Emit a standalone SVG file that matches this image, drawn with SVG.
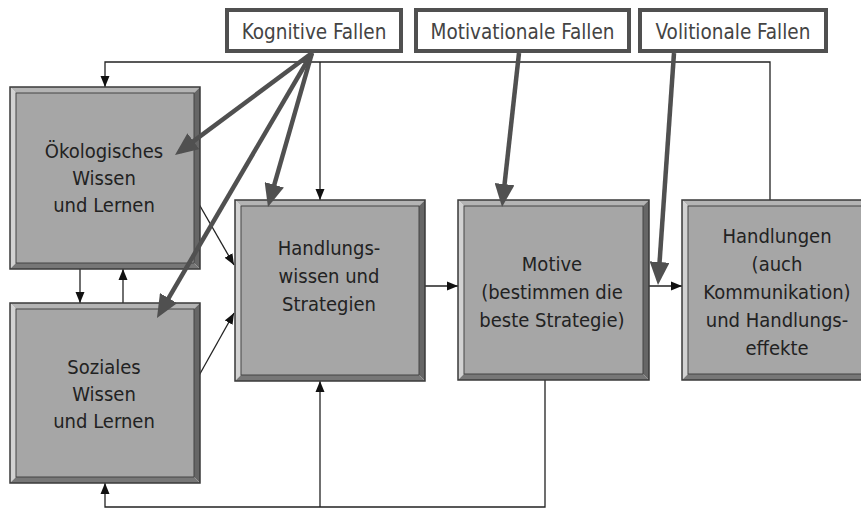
<svg xmlns="http://www.w3.org/2000/svg" width="861" height="508" viewBox="0 0 861 508">
<style>
.lbl{fill:#fff;stroke:#505050;stroke-width:4}
.lt{font-family:"DejaVu Sans Condensed","DejaVu Sans",sans-serif;font-stretch:condensed;font-size:20.5px;fill:#444;text-anchor:middle}
.bt{font-family:"DejaVu Sans Condensed","DejaVu Sans",sans-serif;font-stretch:condensed;font-size:20px;fill:#222;text-anchor:middle}
.outer{fill:none;stroke:#3a3a3a;stroke-width:1.5}
.inner{fill:#a6a6a6;stroke:#444;stroke-width:1}
.bt1{fill:#b4b4b4}
.bl{fill:#d2d2d2}
.br{fill:#666}
.bb{fill:#777}
.thin{fill:none;stroke:#222;stroke-width:1.3;marker-end:url(#ah)}
.thick{fill:none;stroke:#505050;stroke-width:4.5;marker-end:url(#AH)}
</style>
<defs>
<marker id="ah" markerUnits="userSpaceOnUse" markerWidth="12" markerHeight="10" refX="11" refY="5" orient="auto"><path d="M0,0.5 L11,5 L0,9.5 z" fill="#111"/></marker>
<marker id="AH" markerUnits="userSpaceOnUse" markerWidth="24" markerHeight="20" refX="17" refY="10" orient="auto"><path d="M0,0 L23,10 L0,20 z" fill="#505050"/></marker>
</defs>
<rect width="861" height="508" fill="#fff"/>

<g id="connectors">
<path class="thin" d="M770,200 V62 H105 V87"/>
<path class="thin" d="M320,62 V200"/>
<path class="thin" d="M80,269 V303"/>
<path class="thin" d="M123,303 V269"/>
<path class="thin" d="M192,192 L234,265"/>
<path class="thin" d="M192,388 L234,313"/>
<path class="thin" d="M425,286 H458"/>
<path class="thin" d="M649,286 H682"/>
<path class="thin" d="M545,380 V507 H105 V483"/>
<path class="thin" d="M320,507 V381"/>
</g>

<g id="n-oeko">
<polygon class="bt1" points="10,87 200,87 194,93 16,93"/>
<polygon class="bl" points="10,87 16,93 16,263 10,269"/>
<polygon class="br" points="200,87 200,269 194,263 194,93"/>
<polygon class="bb" points="10,269 200,269 194,263 16,263"/>
<rect class="inner" x="16" y="93" width="178" height="170"/>
<rect class="outer" x="10" y="87" width="190" height="182"/>
<text class="bt" x="104" y="158">Ökologisches</text>
<text class="bt" x="104" y="185">Wissen</text>
<text class="bt" x="104" y="212">und Lernen</text>
</g>

<g id="n-sozial">
<polygon class="bt1" points="10,303 200,303 194,309 16,309"/>
<polygon class="bl" points="10,303 16,309 16,477 10,483"/>
<polygon class="br" points="200,303 200,483 194,477 194,309"/>
<polygon class="bb" points="10,483 200,483 194,477 16,477"/>
<rect class="inner" x="16" y="309" width="178" height="168"/>
<rect class="outer" x="10" y="303" width="190" height="180"/>
<text class="bt" x="104" y="374">Soziales</text>
<text class="bt" x="104" y="401">Wissen</text>
<text class="bt" x="104" y="428">und Lernen</text>
</g>

<g id="n-handlungswissen">
<polygon class="bt1" points="235,200 425,200 419,206 241,206"/>
<polygon class="bl" points="235,200 241,206 241,375 235,381"/>
<polygon class="br" points="425,200 425,381 419,375 419,206"/>
<polygon class="bb" points="235,381 425,381 419,375 241,375"/>
<rect class="inner" x="241" y="206" width="178" height="169"/>
<rect class="outer" x="235" y="200" width="190" height="181"/>
<text class="bt" x="329" y="255">Handlungs-</text>
<text class="bt" x="329" y="283">wissen und</text>
<text class="bt" x="329" y="311">Strategien</text>
</g>

<g id="n-motive">
<polygon class="bt1" points="458,200 649,200 643,206 464,206"/>
<polygon class="bl" points="458,200 464,206 464,374 458,380"/>
<polygon class="br" points="649,200 649,380 643,374 643,206"/>
<polygon class="bb" points="458,380 649,380 643,374 464,374"/>
<rect class="inner" x="464" y="206" width="179" height="168"/>
<rect class="outer" x="458" y="200" width="191" height="180"/>
<text class="bt" x="552" y="271">Motive</text>
<text class="bt" x="552" y="299">(bestimmen die</text>
<text class="bt" x="552" y="327">beste Strategie)</text>
</g>

<g id="n-handlungen">
<polygon class="bt1" points="682,200 872,200 866,206 688,206"/>
<polygon class="bl" points="682,200 688,206 688,374 682,380"/>
<polygon class="br" points="872,200 872,380 866,374 866,206"/>
<polygon class="bb" points="682,380 872,380 866,374 688,374"/>
<rect class="inner" x="688" y="206" width="178" height="168"/>
<rect class="outer" x="682" y="200" width="190" height="180"/>
<text class="bt" x="777" y="243">Handlungen</text>
<text class="bt" x="777" y="271">(auch</text>
<text class="bt" x="777" y="299">Kommunikation)</text>
<text class="bt" x="777" y="327">und Handlungs-</text>
<text class="bt" x="777" y="355">effekte</text>
</g>

<g id="n-kognitiv">
<rect class="lbl" x="227" y="10" width="174" height="41"/>
<text class="lt" x="314" y="39">Kognitive Fallen</text>
</g>
<g id="n-motivational">
<rect class="lbl" x="416" y="10" width="213" height="41"/>
<text class="lt" x="522.5" y="39">Motivationale Fallen</text>
</g>
<g id="n-volitional">
<rect class="lbl" x="640" y="10" width="186" height="41"/>
<text class="lt" x="733" y="39">Volitionale Fallen</text>
</g>

<g id="traps">
<path class="thick" d="M312,53 L179.8,151.4"/>
<path class="thick" d="M312,53 L269.6,201.2"/>
<path class="thick" d="M312,53 L160,312.8"/>
<path class="thick" d="M519,53 L502.7,201"/>
<path class="thick" d="M674,53 L658.4,279"/>
</g>
</svg>
